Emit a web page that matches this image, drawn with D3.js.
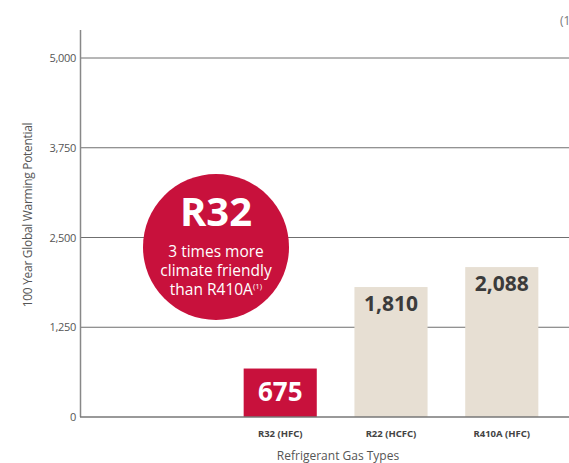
<!DOCTYPE html>
<html>
<head>
<meta charset="utf-8">
<script src="https://cdn.jsdelivr.net/npm/d3@7"></script>
<style>
  body { margin: 0; background: #fff; }
  svg { display: block; font-family: "Open Sans", "Noto Sans", sans-serif; }
</style>
</head>
<body>
<svg width="569" height="463"></svg>
<script>
const categories = ["R32 (HFC)", "R22 (HCFC)", "R410A (HFC)"];
const values = [675, 1810, 2088];
const yTicks = [0, 1250, 2500, 3750, 5000];
const highlight = "R32 (HFC)";

const svg = d3.select("svg");
const red = "#c8113c";
const beige = "#e7dfd3";

// scales
const y = d3.scaleLinear().domain([0, 5000]).range([417, 58]);
const x = d3.scaleBand().domain(categories).range([206, 576]).paddingInner(0.34).paddingOuter(0.34);

// gridlines
svg.append("g")
  .selectAll("line")
  .data(yTicks.filter(d => d > 0))
  .join("line")
  .attr("x1", 80).attr("x2", 569)
  .attr("y1", d => y(d)).attr("y2", d => y(d))
  .attr("stroke", "#6f6f6f").attr("stroke-width", 1);

// y axis (labels only, no tick marks)
const yAxis = svg.append("g")
  .attr("transform", "translate(80,0)")
  .call(d3.axisLeft(y).tickValues(yTicks).tickFormat(d3.format(",")).tickSize(0));
yAxis.select(".domain").remove();
yAxis.selectAll(".tick text")
  .attr("x", -4)
  .attr("fill", "#555")
  .style("font-size", "11px")
  .style("font-family", "'Open Sans', sans-serif")
  .style("letter-spacing", "-0.3px");

svg.append("line")
  .attr("x1", 80.5).attr("x2", 80.5)
  .attr("y1", 30).attr("y2", y(0))
  .attr("stroke", "#888").attr("stroke-width", 1.5);

// bars
svg.append("g")
  .selectAll("rect")
  .data(categories)
  .join("rect")
  .attr("x", d => x(d))
  .attr("width", x.bandwidth())
  .attr("y", (d, i) => y(values[i]))
  .attr("height", (d, i) => y(0) - y(values[i]))
  .attr("fill", d => d === highlight ? red : beige);

// baseline
svg.append("line")
  .attr("x1", 80).attr("x2", 569)
  .attr("y1", y(0)).attr("y2", y(0))
  .attr("stroke", "#777").attr("stroke-width", 1.5);

// value labels
svg.append("g")
  .selectAll("text")
  .data(categories)
  .join("text")
  .attr("x", d => x(d) + x.bandwidth() / 2)
  .attr("y", (d, i) => y(values[i]) + (d === highlight ? 32 : 24))
  .attr("text-anchor", "middle")
  .attr("fill", d => d === highlight ? "#fff" : "#3b3b3b")
  .style("font-size", d => d === highlight ? "26px" : "21px")
  .style("font-weight", "bold")
  .style("font-family", "'Noto Sans', sans-serif")
  .text((d, i) => d3.format(",")(values[i]));

// category labels
svg.append("g")
  .selectAll("text")
  .data(categories)
  .join("text")
  .attr("x", d => x(d) + x.bandwidth() / 2)
  .attr("y", 437)
  .attr("text-anchor", "middle")
  .attr("fill", "#444")
  .style("font-size", "9.5px")
  .style("font-weight", "bold")
  .style("font-family", "'Noto Sans', sans-serif")
  .text(d => d);

// axis titles
svg.append("text")
  .attr("x", 338).attr("y", 460)
  .attr("text-anchor", "middle")
  .attr("fill", "#555")
  .style("font-size", "12px")
  .text("Refrigerant Gas Types");

svg.append("text")
  .attr("transform", "translate(32,215) rotate(-90)")
  .attr("text-anchor", "middle")
  .attr("fill", "#555")
  .style("font-size", "12px")
  .style("letter-spacing", "-0.3px")
  .text("100 Year Global Warming Potential");

// footnote marker (clipped at the right edge, as in the source)
svg.append("text")
  .attr("x", 560).attr("y", 25)
  .attr("fill", "#777")
  .style("font-size", "12px")
  .text("(1)");

// callout circle
const callout = svg.append("g").attr("transform", "translate(216,247)");
callout.append("circle").attr("r", 73).attr("fill", red);
callout.append("text")
  .attr("y", -21)
  .attr("text-anchor", "middle")
  .attr("fill", "#fff")
  .style("font-size", "40px")
  .style("font-weight", "bold")
  .text("R32");
const lines = ["3 times more", "climate friendly"];
callout.selectAll("text.line")
  .data(lines)
  .join("text")
  .attr("class", "line")
  .attr("y", (d, i) => 10 + i * 19)
  .attr("text-anchor", "middle")
  .attr("fill", "#fff")
  .style("font-size", "15.5px")
  .text(d => d);
const last = callout.append("text")
  .attr("y", 48)
  .attr("text-anchor", "middle")
  .attr("fill", "#fff")
  .style("font-size", "15.5px");
last.append("tspan").text("than R410A");
last.append("tspan").attr("dy", -6).style("font-size", "8px").text("(1)");
</script>
</body>
</html>
